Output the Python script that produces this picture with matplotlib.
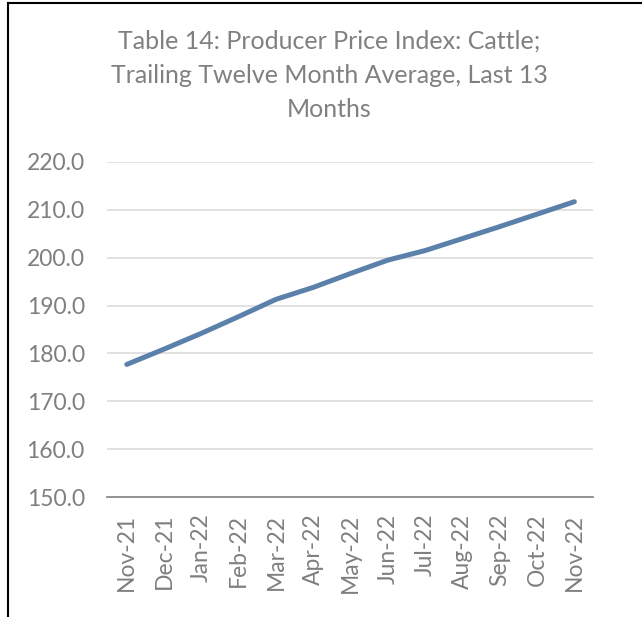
import matplotlib
matplotlib.use("Agg")
import matplotlib.pyplot as plt
from matplotlib.lines import Line2D

months = ["Nov-21", "Dec-21", "Jan-22", "Feb-22", "Mar-22", "Apr-22", "May-22",
          "Jun-22", "Jul-22", "Aug-22", "Sep-22", "Oct-22", "Nov-22"]
ppi_avg = [177.7, 180.9, 184.2, 187.7, 191.3, 193.8, 196.7,
           199.5, 201.5, 204.0, 206.5, 209.1, 211.7]
y_ticks = [150, 160, 170, 180, 190, 200, 210, 220]
title_lines = ["Table 14: Producer Price Index: Cattle;",
               "Trailing Twelve Month Average, Last 13",
               "Months"]

plt.rcParams["font.family"] = ["Lato", "DejaVu Sans"]

W, H = 642, 617
fig = plt.figure(figsize=(W / 100, H / 100), dpi=100)
ax = fig.add_axes([107 / W, 1 - 497 / H, 486 / W, 335 / H])

ax.plot(range(len(months)), ppi_avg, color="#5b80aa", linewidth=3.6,
        solid_capstyle="round", zorder=3)

ax.set_xlim(-0.53, len(months) - 0.5)
ax.set_ylim(150, 220)
ax.set_yticks(y_ticks)
ax.set_yticklabels([f"{v:.1f}" for v in y_ticks])
ax.set_xticks(range(len(months)))
ax.set_xticklabels(months, rotation=90)

ax.grid(axis="y", color="#d9d9d9", linewidth=1.1)
ax.set_axisbelow(True)
for side in ["top", "right", "left"]:
    ax.spines[side].set_visible(False)
ax.spines["bottom"].set_color("#8c8c8c")
ax.spines["bottom"].set_linewidth(1.3)
ax.tick_params(axis="both", length=0, colors="#7f7f7f", labelsize=16.5)
ax.tick_params(axis="x", pad=12)
ax.tick_params(axis="y", pad=16)

# title, one line at a time (baselines)
for line, base_px in zip(title_lines, [49, 83, 117]):
    fig.text(329 / W, 1 - base_px / H, line, ha="center", va="baseline",
             color="#808080", fontsize=18)

# frame around the chart (top and left edges visible in the crop)
fig.add_artist(Line2D([7.5 / W, 1], [1 - 2.5 / H, 1 - 2.5 / H],
                      transform=fig.transFigure, color="black", linewidth=1.5))
fig.add_artist(Line2D([7.5 / W, 7.5 / W], [0, 1 - 2.5 / H],
                      transform=fig.transFigure, color="black", linewidth=1.5))

fig.savefig("out.png", dpi=100)
